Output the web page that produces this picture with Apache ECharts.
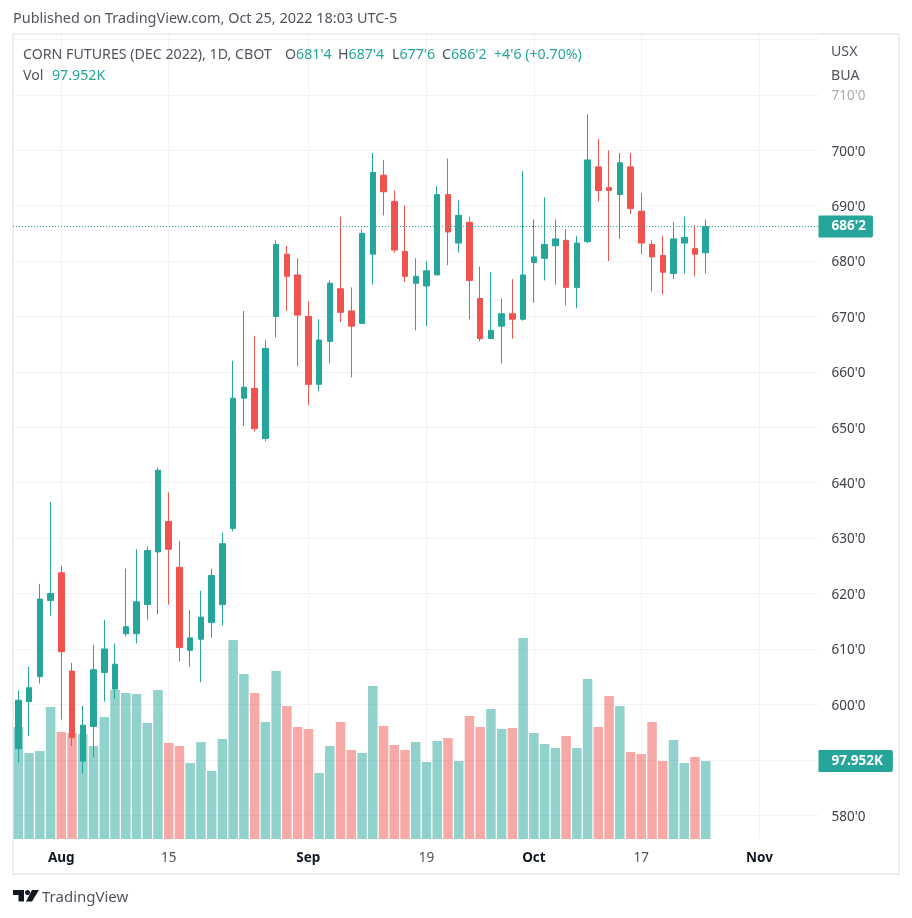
<!DOCTYPE html>
<html lang="en">
<head>
    <meta charset="UTF-8">
    <title>CORN FUTURES (DEC 2022)</title>
    <script src="https://cdn.jsdelivr.net/npm/echarts@6/dist/echarts.min.js"></script>
    <style>
        html, body { margin: 0; padding: 0; background: #fff; }
        #chart { width: 912px; height: 918px; }
    </style>
</head>
<body>
<div id="chart"></div>
<script type="text/javascript">
    // daily candles, Jul 26 - Oct 25 2022, prices in cents/bu
    var opens = [592, 600.5, 605, 618.75, 623.75, 606, 589.75, 596, 605.75, 602.75, 612.75, 612.75, 618, 627.5, 633, 624.75,
        609.75, 611.75, 614.75, 618, 631.75, 655.25, 657, 648, 670, 681.25, 677.5, 670, 657.75, 665.5, 675, 671,
        668.75, 681.25, 695.5, 690.75, 681.75, 676, 675.5, 677.5, 692, 683.25, 687, 673.25, 666, 668.25, 670.5, 669.5,
        679.75, 680.5, 682.75, 683.75, 675.25, 683.5, 697, 693.25, 692, 697, 689, 683, 681, 677.75, 683.25, 682.25, 681.5];
    var closes = [600.75, 603, 619, 620, 609.5, 594, 596.25, 606.25, 610, 607.25, 614, 618.5, 627.75, 642.25, 628, 610.25,
        612, 615.75, 623.25, 629, 655.25, 657.25, 649.75, 664.25, 683, 677.25, 670.25, 657.75, 665.75, 676, 670.75, 668.25,
        685, 696, 692.5, 682, 677.25, 677.25, 678.25, 692, 685.25, 688.25, 676.5, 666, 667.5, 670.5, 669.5, 677.5,
        680.75, 683, 684, 675.25, 683.25, 698.25, 692.75, 692.75, 697.75, 689.5, 683.25, 680.75, 678, 684, 684.25, 681.25, 686.25];
    var lows = [589.5, 594.25, 603.75, 616, 597.25, 592.5, 587.5, 590.5, 600.5, 601, 612.25, 611, 615.25, 616.25, 618, 607.75,
        606.75, 604, 612, 614.25, 631.25, 650.25, 649.25, 647.5, 666.25, 671, 661, 654, 656.5, 661.5, 669, 659,
        668.75, 675.75, 688.25, 681.5, 676.25, 667.5, 668.25, 677.5, 679.25, 681.5, 669.5, 665.5, 666, 661.5, 666, 669.25,
        672.5, 676.5, 675.75, 672, 671.5, 683.25, 690.75, 680, 684, 688.5, 681.25, 674.5, 674, 676.75, 677.75, 677.25, 677.75];
    var highs = [602.5, 606.75, 621.75, 636.5, 625, 607.5, 599.75, 610.75, 615.25, 611, 624.5, 628, 628.5, 642.75, 638.25, 629.5,
        617, 620.5, 624.5, 631, 662, 671, 666.5, 665.75, 683.75, 682.75, 680.5, 672.75, 669.5, 676.5, 688, 675.25,
        685.75, 699.5, 698.25, 692.75, 690, 680.5, 680, 693.5, 698.5, 691, 688, 679, 678, 673.25, 676.75, 696.25,
        687.5, 691.5, 687.5, 685.75, 684.5, 706.5, 702, 700, 699.5, 699.5, 692.25, 683.75, 684.5, 687, 688, 686.5, 687.5];
    // volume in thousands
    var volumes = [140.6, 108, 110.5, 165.8, 134.4, 133.1, 131.9, 116.8, 153.2, 187.1, 183.3, 182.1, 145.7, 187.1, 120.6, 116.8,
        95.4, 121.8, 85.4, 125.6, 249.9, 207.2, 183.3, 146.9, 211, 167, 140.6, 138.1, 82.9, 116.8, 146.9, 111.8,
        108, 192.1, 141.9, 118, 111.8, 121.8, 96.7, 123.1, 126.8, 98, 154.5, 140.6, 163.3, 138.1, 139.4, 252.4,
        133.1, 119.3, 114.3, 129.3, 114.3, 200.9, 140.6, 179.6, 167, 109.3, 106.7, 146.9, 98, 124.3, 95.4, 103, 97.952];
    var barCount = 75;
    var timeLabels = { 4: 'Aug', 14: '15', 27: 'Sep', 38: '19', 48: 'Oct', 58: '17', 69: 'Nov' };
    var priceTicks = [580, 590, 600, 610, 620, 630, 640, 650, 660, 670, 680, 690, 700, 710, 720];
    var hiddenPriceLabels = [590, 720];
    var lastPrice = 686.25;
    var lastVolume = 97.952;

    var UP = '#26a69a', DOWN = '#ef5350', GRID = '#f3f3f6', BORDER = '#eeeef4', TEXT = '#50535e';
    var FONT = '"Noto Sans", sans-serif';

    function fmtPrice(v) {
        var whole = Math.floor(v);
        return whole + "'" + Math.round((v - whole) * 8);
    }

    var categories = [];
    for (var i = 0; i < barCount; i++) categories.push(String(i));

    var candles = [], volumeBars = [];
    for (var j = 0; j < opens.length; j++) {
        candles.push([opens[j], closes[j], lows[j], highs[j]]);
        volumeBars.push({
            value: volumes[j],
            itemStyle: { color: closes[j] >= opens[j] ? 'rgba(38,166,154,0.5)' : 'rgba(239,83,80,0.5)' }
        });
    }

    function isTimeTick(idx) { return timeLabels[idx] !== undefined; }

    var headRich = {
        n: { fill: TEXT, fontFamily: FONT, fontSize: 14.2 },
        v: { fill: UP, fontFamily: FONT, fontSize: 14.2 }
    };

    var chart = echarts.init(document.getElementById('chart'), null, { renderer: 'canvas' });
    chart.setOption({
        animation: false,
        backgroundColor: '#ffffff',
        textStyle: { fontFamily: FONT },
        grid: { left: 13, top: 35, width: 805.5, height: 804 },
        xAxis: {
            type: 'category',
            data: categories,
            axisLine: { show: false },
            axisTick: { show: false, alignWithLabel: true, interval: function (idx) { return isTimeTick(idx); } },
            splitLine: {
                show: true,
                alignWithLabel: true,
                interval: function (idx) { return isTimeTick(idx); },
                lineStyle: { color: GRID, width: 1 }
            },
            axisLabel: {
                interval: function (idx) { return isTimeTick(idx); },
                margin: 12,
                formatter: function (v, idx) {
                    var t = timeLabels[idx];
                    return isNaN(Number(t)) ? '{m|' + t + '}' : '{d|' + t + '}';
                },
                rich: {
                    m: { fontFamily: FONT, fontSize: 13.5, fontWeight: 'bold', color: '#131722' },
                    d: { fontFamily: FONT, fontSize: 13.5, color: TEXT }
                }
            }
        },
        yAxis: [{
            type: 'value',
            position: 'right',
            min: 575.7,
            max: 720.8,
            axisLine: { show: false },
            axisTick: { show: false, customValues: priceTicks },
            splitLine: { show: true, lineStyle: { color: GRID, width: 1 } },
            axisLabel: {
                customValues: priceTicks.filter(function (v) { return hiddenPriceLabels.indexOf(v) < 0; }),
                margin: 13,
                formatter: function (v) { return (v === 710 ? '{f|' : '{t|') + fmtPrice(v) + '}'; },
                rich: {
                    t: { fontFamily: FONT, fontSize: 13.5, color: '#3d404a', padding: [3, 0, 0, 0] },
                    f: { fontFamily: FONT, fontSize: 13.5, color: '#a9abb2', padding: [3, 0, 0, 0] }
                }
            }
        }, {
            // overlay scale for the volume pane
            type: 'value',
            min: 0,
            max: 1010,
            show: false,
            splitLine: { show: false }
        }],
        series: [{
            name: 'Vol',
            type: 'bar',
            yAxisIndex: 1,
            barWidth: 9.5,
            data: volumeBars,
            markLine: {
                silent: true,
                symbol: 'none',
                lineStyle: { color: 'rgba(0,0,0,0)', width: 1 },
                data: [{ yAxis: lastVolume }],
                label: {
                    position: 'end',
                    distance: 0,
                    formatter: lastVolume.toFixed(3) + 'K',
                    color: '#fff',
                    fontFamily: FONT,
                    fontWeight: 'bold',
                    fontSize: 13.5,
                    backgroundColor: UP,
                    borderRadius: [0, 2, 2, 0],
                    padding: [6, 10, 2, 13]
                }
            }
        }, {
            name: 'CORN',
            type: 'candlestick',
            yAxisIndex: 0,
            barWidth: 6,
            data: candles,
            itemStyle: { color: UP, color0: DOWN, borderColor: UP, borderColor0: DOWN, borderWidth: 1 },
            markLine: {
                silent: true,
                symbol: 'none',
                lineStyle: { color: UP, type: [1, 2], width: 1 },
                data: [{ yAxis: lastPrice }],
                label: {
                    position: 'end',
                    distance: 0,
                    formatter: fmtPrice(lastPrice),
                    color: '#fff',
                    fontFamily: FONT,
                    fontWeight: 'bold',
                    fontSize: 13.5,
                    backgroundColor: UP,
                    borderRadius: [0, 2, 2, 0],
                    padding: [6, 7, 2, 13]
                }
            }
        }],
        graphic: [
            { type: 'rect', silent: true, z: -1, shape: { x: 13, y: 34, width: 886, height: 840 },
              style: { fill: 'none', stroke: BORDER, lineWidth: 2 } },
            { type: 'text', left: 13, top: 12,
              style: { text: 'Published on TradingView.com, Oct 25, 2022 18:03 UTC-5', fill: TEXT, font: '14.45px ' + FONT } },
            { type: 'text', left: 23, top: 48, z: 10,
              style: { text: 'CORN FUTURES (DEC 2022), 1D, CBOT', fill: TEXT, font: '14.2px ' + FONT } },
            { type: 'text', left: 285, top: 48, z: 10, style: { rich: headRich, text: '{n|O}{v|681\'4}' } },
            { type: 'text', left: 338, top: 48, z: 10, style: { rich: headRich, text: '{n|H}{v|687\'4}' } },
            { type: 'text', left: 392, top: 48, z: 10, style: { rich: headRich, text: '{n|L}{v|677\'6}' } },
            { type: 'text', left: 442, top: 48, z: 10, style: { rich: headRich, text: '{n|C}{v|686\'2}' } },
            { type: 'text', left: 494, top: 48, z: 10, style: { rich: headRich, text: '{v|+4\'6 (+0.70%)}' } },
            { type: 'text', left: 23, top: 69, z: 10, style: { rich: headRich, text: '{n|Vol}' } },
            { type: 'text', left: 52, top: 69, z: 10, style: { rich: headRich, text: '{v|97.952K}' } },
            { type: 'text', left: 831, top: 45, z: 10, style: { text: 'USX', fill: TEXT, font: '14.2px ' + FONT } },
            { type: 'text', left: 831, top: 69, z: 10, style: { text: 'BUA', fill: TEXT, font: '14.2px ' + FONT } },
            { type: 'polygon', shape: { points: [[13, 890], [24, 890], [24, 901.5], [18.5, 901.5], [18.5, 895], [13, 895]] }, style: { fill: '#131722' } },
            { type: 'circle', shape: { cx: 27.5, cy: 892.5, r: 2.5 }, style: { fill: '#131722' } },
            { type: 'polygon', shape: { points: [[32, 890], [39, 890], [32, 901.5], [26, 901.5]] }, style: { fill: '#131722' } },
            { type: 'text', left: 42, top: 890, style: { text: 'TradingView', fill: TEXT, font: '15px ' + FONT } }
        ]
    });
</script>
</body>
</html>
